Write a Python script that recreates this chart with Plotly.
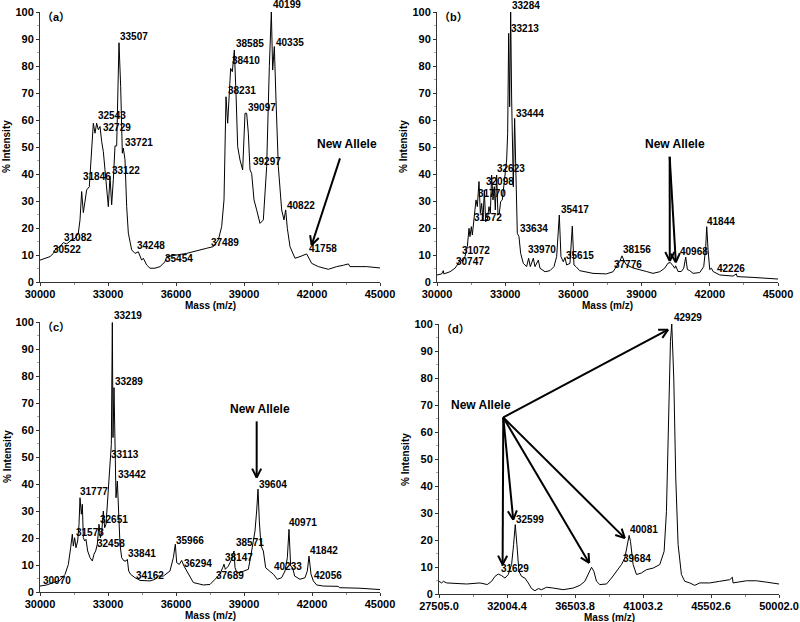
import math
import plotly.graph_objects as go

# ---------------- data: panel (a) ----------------
a_mass = [30000, 30441, 30588, 30662, 30882, 31029, 31176, 31397, 31544, 31691,
          31765, 31838, 31912, 31985, 32059, 32176, 32279, 32353, 32426, 32500,
          32574, 32647, 32721, 32794, 32868, 32941, 33015, 33088, 33132, 33162,
          33235, 33309, 33382, 33485, 33559, 33632, 33676, 33750, 33824, 33897,
          34044, 34191, 34338, 34485, 34559, 34706, 34853, 35074, 35294, 35515,
          35588, 36471, 37353, 37647, 37868, 38015, 38118, 38206, 38279, 38353,
          38412, 38485, 38574, 38647, 38721, 38824, 38941, 39044, 39118, 39191,
          39265, 39338, 39441, 39559, 39706, 39853, 40000, 40118, 40206, 40265,
          40338, 40412, 40515, 40662, 40765, 40838, 40912, 41029, 41250, 41471,
          41765, 41985, 42279, 42721, 43088, 43382, 43603, 43676, 44412, 45000]
a_int = [8.1, 9.4, 10.6, 11.9, 13.1, 14.6, 14.1, 15.6, 16.2, 18.1,
         23.0, 33.5, 25.7, 29.1, 34.1, 35.3, 47.7, 58.8, 55.1, 58.8,
         56.4, 57.6, 52.0, 48.3, 41.5, 34.1, 27.9, 39.1, 29.9, 28.6,
         37.9, 50.4, 50.4, 88.6, 72.5, 47.7, 49.6, 45.3, 27.9, 18.1,
         11.9, 10.6, 11.2, 8.1, 8.8, 6.3, 5.1, 5.1, 5.7, 7.5,
         9.4, 10.6, 12.5, 13.1, 15.6, 20.5, 30.4, 68.6, 58.8, 73.6,
         79.1, 77.9, 85.9, 69.9, 50.1, 45.2, 41.5, 62.5, 62.5, 55.1,
         41.5, 40.2, 30.4, 26.7, 21.7, 23.0, 42.7, 79.8, 100, 78.5,
         87.2, 67.4, 42.7, 26.7, 23.0, 26.7, 19.9, 13.1, 8.8, 9.4,
         10.4, 6.9, 5.7, 4.7, 5.7, 6.2, 6.7, 5.7, 5.7, 5.2]
a_labels = ["30522", "31082", "31846", "32543", "32729", "33122", "33721", "33507",
            "34248", "35454", "37489", "38231", "38410", "38585", "39097", "39297",
            "40199", "40335", "40822", "41758"]
a_label_x = [30515, 31029, 31838, 32529, 32721, 33132, 33721, 33485,
             34235, 35471, 37500, 38235, 38426, 38603, 39118, 39338,
             40221, 40368, 40853, 41838]
a_label_y = [11.9, 16.5, 39.0, 61.5, 57.2, 41.2, 51.6, 90.9,
             13.5, 8.8, 14.6, 71.1, 81.9, 88.4, 64.6, 44.8,
             102.6, 88.6, 28.3, 12.5]
a_allele_text = (43529, 51.1)
a_arrow_tail = [(43235, 45.8)]
a_arrow_head = [(41985, 13.7)]

# ---------------- data: panel (b) ----------------
b_mass = [30000, 30205, 30278, 30300, 30571, 30791, 30938, 31040, 31128, 31231,
          31334, 31408, 31451, 31510, 31554, 31627, 31715, 31774, 31847, 31906,
          31964, 32023, 32082, 32140, 32213, 32287, 32346, 32404, 32463, 32521,
          32565, 32624, 32682, 32741, 32800, 32873, 32932, 32990, 33064, 33108,
          33152, 33196, 33240, 33284, 33327, 33357, 33415, 33474, 33533, 33606,
          33680, 33797, 33943, 34031, 34105, 34237, 34310, 34457, 34530, 34750,
          34970, 35146, 35263, 35380, 35453, 35556, 35629, 35702, 35849, 35952,
          36025, 36113, 36277, 36863, 37450, 37743, 37890, 38037, 38139, 38227,
          38330, 38623, 39209, 39503, 39796, 40016, 40163, 40266, 40383, 40456,
          40500, 40603, 40750, 40853, 40941, 41014, 41117, 41263, 41557, 41733,
          41821, 41865, 41924, 41997, 42071, 42144, 42437, 43024, 43170, 43200,
          43904, 44491, 45000]
b_int = [2.6, 3.0, 4.2, 3.0, 3.8, 5.1, 6.9, 8.4, 7.5, 9.4,
         13.1, 19.9, 16.8, 20.5, 17.4, 24.2, 30.4, 27.9, 37.2, 25.4,
         29.1, 23.0, 34.1, 22.3, 23.0, 27.9, 25.4, 39.6, 30.4, 35.3,
         26.7, 39.6, 24.8, 25.4, 29.8, 30.4, 35.3, 40.2, 45.2, 55.1,
         92.1, 64.9, 100, 67.4, 37.2, 35.3, 60.6, 40.2, 18.0, 16.8,
         10.6, 6.9, 5.7, 8.8, 5.7, 8.8, 5.7, 8.1, 5.1, 3.8,
         4.2, 5.7, 9.4, 24.8, 9.4, 7.5, 9.1, 6.3, 6.9, 20.7,
         6.3, 5.7, 4.2, 3.2, 3.0, 3.8, 5.7, 7.6, 9.7, 7.8,
         6.4, 5.2, 3.9, 3.2, 3.8, 5.1, 7.0, 7.2, 6.0, 5.1,
         6.0, 3.9, 3.9, 5.1, 9.2, 4.6, 4.2, 3.2, 3.5, 5.7,
         13.0, 20.5, 11.9, 4.6, 5.1, 3.9, 2.6, 2.2, 3.0, 2.0,
         1.7, 1.4, 1.1]
b_labels = ["30747", "31072", "31572", "31770", "32098", "32623", "33213", "33284",
            "33444", "33634", "33970", "35417", "35615", "37776", "38156", "40968",
            "41844", "42226"]
b_label_x = [30777, 31070, 31584, 31760, 32097, 32610, 33197, 33241,
             33446, 33607, 33974, 35396, 35645, 37742, 38152, 40645,
             41818, 42258]
b_label_y = [7.5, 11.6, 23.8, 32.6, 37.2, 42.1, 94.0, 102.3,
             62.5, 19.8, 11.9, 26.7, 10.0, 6.5, 12.1, 11.2,
             22.3, 5.1]
b_allele_text = (40455, 51.1)
b_arrow_tail = [(40235, 46.4), (40235, 46.4)]
b_arrow_head = [(40240, 7.8), (40505, 7.3)]

# ---------------- data: panel (c) ----------------
c_mass = [30000, 30294, 30588, 30882, 31103, 31250, 31353, 31426, 31471, 31529,
          31588, 31662, 31721, 31765, 31824, 31868, 31912, 31971, 32029, 32103,
          32206, 32309, 32382, 32456, 32529, 32603, 32662, 32721, 32794, 32853,
          32912, 32985, 33044, 33103, 33147, 33191, 33221, 33265, 33309, 33353,
          33412, 33471, 33529, 33603, 33706, 33794, 33853, 33912, 34000, 34191,
          34412, 34853, 35074, 35221, 35441, 35735, 35882, 35971, 36029, 36147,
          36250, 36353, 36544, 36765, 37206, 37500, 37721, 37941, 38059, 38118,
          38176, 38309, 38456, 38559, 38603, 38676, 38824, 39044, 39191, 39338,
          39485, 39559, 39618, 39676, 39750, 39853, 39956, 40118, 40294, 40471,
          40662, 40809, 40912, 40985, 41059, 41147, 41235, 41471, 41691, 41794,
          41868, 41956, 42059, 42206, 42500, 43162, 43206, 44118, 45000]
c_int = [2.2, 2.6, 3.5, 4.3, 6.5, 10.2, 16.4, 21.4, 17.0, 20.1,
         16.4, 18.9, 25.0, 34.9, 28.8, 32.5, 20.1, 18.9, 19.5, 15.2,
         12.7, 11.5, 14.0, 15.2, 17.7, 25.1, 20.1, 22.0, 30.0, 23.8,
         25.1, 34.9, 43.6, 49.1, 54.7, 99.8, 57.2, 75.7, 58.4, 34.9,
         41.1, 30.0, 17.7, 12.7, 11.5, 11.5, 12.1, 7.8, 6.5, 5.3,
         4.3, 4.1, 4.7, 5.9, 5.9, 7.8, 12.7, 17.7, 10.9, 10.2,
         11.7, 9.6, 6.5, 3.5, 2.6, 2.8, 4.7, 6.6, 9.0, 10.3,
         8.4, 9.6, 12.1, 15.2, 9.0, 7.4, 7.2, 7.8, 8.4, 15.2,
         22.6, 30.0, 38.1, 26.3, 17.1, 15.2, 9.0, 7.8, 6.6, 4.7,
         5.3, 7.8, 12.7, 23.2, 9.6, 9.0, 5.9, 4.7, 5.3, 7.8,
         13.3, 6.6, 4.1, 2.6, 2.2, 2.1, 1.6, 1.4, 0.9]
c_labels = ["30070", "31573", "31777", "32651", "32458", "33113", "33219", "33289",
            "33442", "33841", "34162", "35966", "36294", "37689", "38147", "38571",
            "39604", "40233", "40971", "41842", "42056"]
c_label_x = [30074, 31544, 31735, 32618, 32456, 33088, 33206, 33279,
             33412, 33824, 34191, 35956, 36294, 37721, 38118, 38618,
             39632, 40265, 40956, 41882, 42059]
c_label_y = [4.3, 22.2, 37.2, 26.8, 17.9, 50.8, 102.3, 78.0,
             43.6, 14.2, 6.2, 19.2, 10.5, 6.2, 12.7, 18.3,
             39.9, 9.6, 25.6, 15.5, 6.2]
c_allele_text = (39706, 67.9)
c_arrow_tail = [(39559, 63.2)]
c_arrow_head = [(39559, 42.4)]

# ---------------- data: panel (d) ----------------
d_mass = [27505, 27681, 27792, 28012, 29334, 30215, 30700, 30986, 31207, 31427,
          31648, 31868, 32088, 32308, 32441, 32551, 32661, 32793, 32970, 33190,
          33410, 33631, 33851, 34071, 34291, 34622, 35062, 35723, 36384, 36825,
          37156, 37376, 37597, 37751, 37927, 38147, 38588, 38918, 39248, 39579,
          39799, 40020, 40086, 40174, 40351, 40571, 40901, 41232, 41673, 42113,
          42400, 42554, 42708, 42819, 42907, 43039, 43171, 43326, 43546, 43766,
          44097, 44428, 44758, 45419, 46080, 46741, 46917, 46961, 47843, 48504,
          49165, 50002]
d_int = [4.7, 4.1, 4.7, 4.1, 3.7, 4.1, 3.5, 4.7, 6.5, 7.4,
         6.8, 5.9, 7.2, 10.9, 18.3, 25.7, 18.3, 8.4, 6.5, 5.9,
         4.1, 2.0, 1.2, 2.0, 1.6, 2.5, 2.2, 1.6, 2.2, 3.2,
         4.7, 7.2, 9.9, 8.4, 4.7, 3.5, 3.7, 5.9, 8.4, 10.9,
         13.3, 20.7, 21.7, 19.5, 10.9, 7.2, 7.8, 9.0, 9.6, 10.9,
         15.8, 30.6, 67.7, 93.6, 100, 80.0, 43.0, 18.3, 7.2, 4.7,
         4.1, 3.2, 4.1, 4.1, 4.7, 5.3, 6.2, 4.1, 4.9, 4.9,
         4.4, 3.7]
d_labels = ["31629", "32599", "39684", "40081", "42929"]
d_label_x = [31537, 32529, 39646, 40086, 42995]
d_label_y = [9.4, 27.5, 13.3, 23.8, 102.5]
d_allele_text = (30281, 70.1)
d_arrow_tail = [(31758, 65.4)] * 5
d_arrow_head = [(31714, 10.9), (32418, 27.5), (37442, 11.5), (39799, 20.7), (42664, 97.9)]

x_ticks_std = [30000, 33000, 36000, 39000, 42000, 45000]
x_ticks_d = [27505.0, 32004.4, 36503.8, 41003.2, 45502.6, 50002.0]
y_ticks = [0, 10, 20, 30, 40, 50, 60, 70, 80, 90, 100]
panel_tags = ["（a）", "（b）", "（c）", "（d）"]

# ---------------- layout geometry (pixels) ----------------
W, H = 800, 622
FONT = "Liberation Sans, Arial, Noto Sans CJK SC, sans-serif"

panels = [
    dict(mass=a_mass, inten=a_int, lt=a_labels, lx=a_label_x, ly=a_label_y,
         at=a_allele_text, tails=a_arrow_tail, heads=a_arrow_head,
         px=(40, 380), py=(12, 282), ticks=x_ticks_std, fmt="d"),
    dict(mass=b_mass, inten=b_int, lt=b_labels, lx=b_label_x, ly=b_label_y,
         at=b_allele_text, tails=b_arrow_tail, heads=b_arrow_head,
         px=(437, 778), py=(12, 282), ticks=x_ticks_std, fmt="d"),
    dict(mass=c_mass, inten=c_int, lt=c_labels, lx=c_label_x, ly=c_label_y,
         at=c_allele_text, tails=c_arrow_tail, heads=c_arrow_head,
         px=(40, 380), py=(322, 592), ticks=x_ticks_std, fmt="d"),
    dict(mass=d_mass, inten=d_int, lt=d_labels, lx=d_label_x, ly=d_label_y,
         at=d_allele_text, tails=d_arrow_tail, heads=d_arrow_head,
         px=(439, 779), py=(324, 594), ticks=x_ticks_d, fmt=".1f"),
]

fig = go.Figure()
annotations = []
shapes = []
layout = dict(width=W, height=H, margin=dict(l=0, r=0, t=0, b=0, autoexpand=False),
              paper_bgcolor="white", plot_bgcolor="white", showlegend=False,
              font=dict(family=FONT, color="black"))

for i, p in enumerate(panels):
    n = "" if i == 0 else str(i + 1)
    xa, ya = "x" + n, "y" + n
    xr = (p["ticks"][0], p["ticks"][-1])
    fig.add_trace(go.Scatter(x=p["mass"], y=p["inten"], mode="lines",
                             line=dict(color="black", width=1),
                             xaxis=xa, yaxis=ya, hoverinfo="skip"))
    xdom = [p["px"][0] / W, p["px"][1] / W]
    ydom = [1 - p["py"][1] / H, 1 - p["py"][0] / H]
    step = p["ticks"][1] - p["ticks"][0]
    layout["xaxis" + n] = dict(domain=xdom, range=list(xr), anchor=ya,
                               tickvals=p["ticks"], tickformat=p["fmt"],
                               showline=True, linecolor="#333", linewidth=1,
                               ticks="outside", ticklen=3, tickcolor="#333",
                               ticklabelstandoff=-1,
                               showgrid=False, zeroline=False, automargin=False,
                               tickfont=dict(size=11, family=FONT, weight="bold"),
                               minor=dict(ticks="outside", ticklen=2, tickcolor="#888",
                                          tick0=xr[0], dtick=step / 2))
    layout["yaxis" + n] = dict(domain=ydom, range=[0, 100], anchor=xa,
                               tickvals=y_ticks, showline=True, linecolor="#333",
                               linewidth=1, ticks="outside", ticklen=3, tickcolor="#333",
                               showgrid=False, zeroline=False, automargin=False,
                               tickfont=dict(size=11, family=FONT, weight="bold"),
                               minor=dict(ticks="outside", ticklen=2, tickcolor="#aaa",
                                          tick0=0, dtick=5))
    # peak labels
    ypx_per = (p["py"][1] - p["py"][0]) / 100.0
    for t, lx, ly in zip(p["lt"], p["lx"], p["ly"]):
        yy, ys = (ly, 0) if ly <= 100 else (100, (ly - 100) * ypx_per)
        annotations.append(dict(x=lx, y=yy, xref=xa, yref=ya, text=t, showarrow=False,
                                xanchor="left", yanchor="middle", yshift=ys,
                                borderpad=0,
                                font=dict(size=10, family=FONT, weight="bold", color="black")))
    # "New Allele" text
    annotations.append(dict(x=p["at"][0], y=p["at"][1], xref=xa, yref=ya, text="New Allele",
                            showarrow=False, xanchor="center", yanchor="middle",
                            font=dict(size=12, family=FONT, weight="bold", color="black")))
    # arrows (shaft + open V head), computed in pixel space
    sx = (p["px"][1] - p["px"][0]) / (xr[1] - xr[0])
    sy = ypx_per
    L, ang = 10.0, math.radians(27)
    for (tx, ty), (hx, hy) in zip(p["tails"], p["heads"]):
        shapes.append(dict(type="line", xref=xa, yref=ya, x0=tx, y0=ty, x1=hx, y1=hy,
                           line=dict(color="black", width=2)))
        vx, vy = (tx - hx) * sx, (ty - hy) * sy
        d = math.hypot(vx, vy)
        ux, uy = vx / d, vy / d
        for s in (1, -1):
            c, si = math.cos(s * ang), math.sin(s * ang)
            rx, ry = ux * c - uy * si, ux * si + uy * c
            shapes.append(dict(type="line", xref=xa, yref=ya, x0=hx, y0=hy,
                               x1=hx + L * rx / sx, y1=hy + L * ry / sy,
                               line=dict(color="black", width=2)))
    # panel tag
    annotations.append(dict(x=p["px"][0] / W, y=1 - (p["py"][0] + 5) / H, xref="paper",
                            yref="paper", text=panel_tags[i], showarrow=False,
                            xanchor="left", yanchor="middle",
                            font=dict(size=11, family=FONT, weight="bold", color="black")))
    # axis titles
    annotations.append(dict(x=(p["px"][0] + p["px"][1]) / 2 / W, y=1 - (p["py"][1] + 23) / H,
                            xref="paper", yref="paper", text="Mass (m/z)", showarrow=False,
                            xanchor="center", yanchor="middle",
                            font=dict(size=10, family=FONT, weight="bold", color="black")))
    annotations.append(dict(x=(p["px"][0] - 33) / W, y=1 - (p["py"][0] + p["py"][1]) / 2 / H,
                            xref="paper", yref="paper", text="% Intensity", showarrow=False,
                            textangle=-90, xanchor="center", yanchor="middle",
                            font=dict(size=10, family=FONT, weight="bold", color="black")))

layout["annotations"] = annotations
layout["shapes"] = shapes
fig.update_layout(**layout)
fig.write_html("out.html", config={"displayModeBar": False},
               post_script="document.body.style.margin='0';document.body.style.padding='0';")
